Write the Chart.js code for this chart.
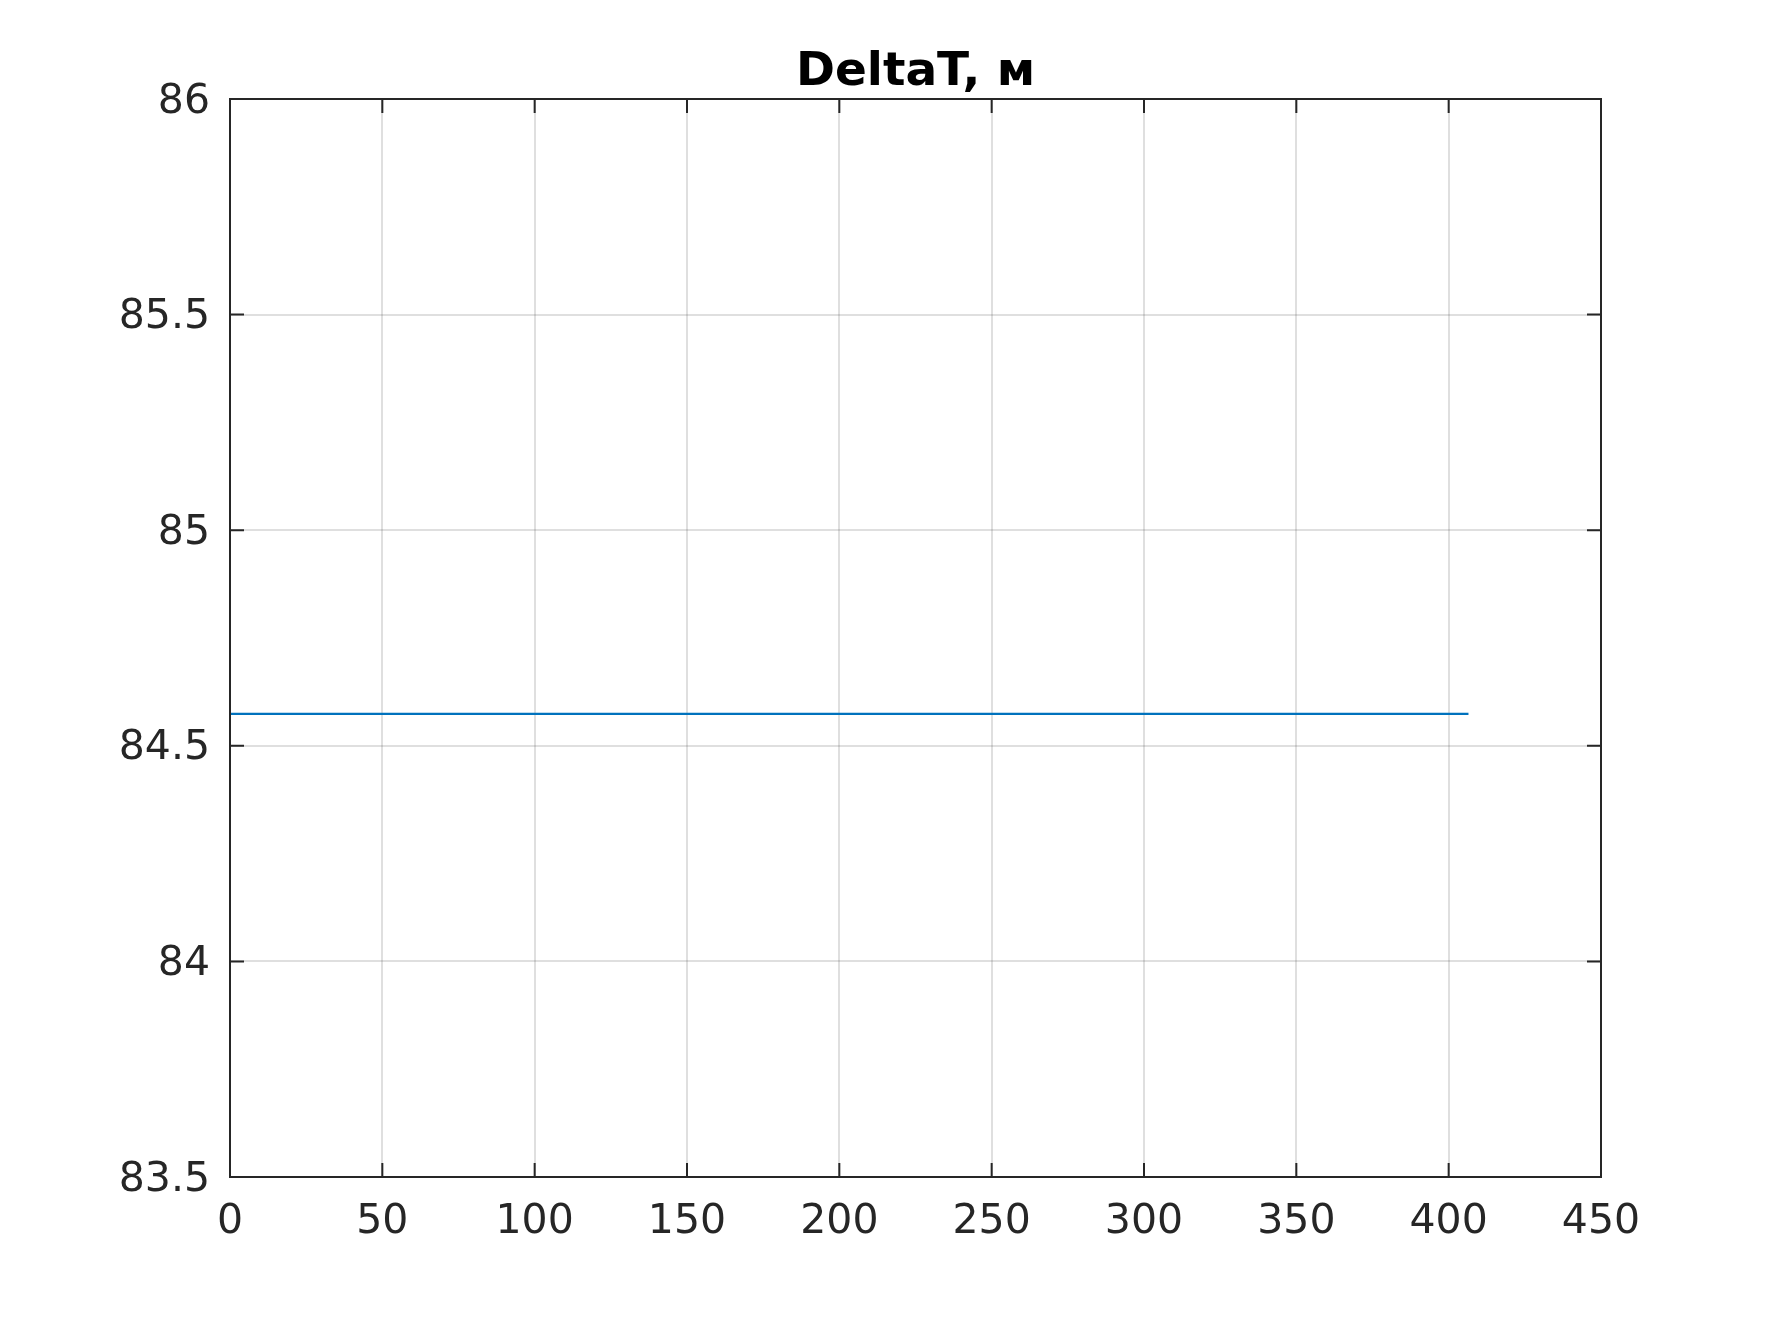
<!DOCTYPE html>
<html>
<head>
<meta charset="utf-8">
<script src="https://cdn.jsdelivr.net/npm/chart.js@4"></script>
<style>
  html, body { margin: 0; padding: 0; background: #ffffff; }
  #wrap { width: 1769px; height: 1322px; position: relative; }
</style>
</head>
<body>
<div id="wrap"><canvas id="c" width="1769" height="1322"></canvas></div>
<script>
// ---- data ----
const titleText = 'DeltaT, м';
const xValues = [0, 406.5];
const yValues = [84.574, 84.574];
const xTicks = [0, 50, 100, 150, 200, 250, 300, 350, 400, 450];
const yTicks = [83.5, 84, 84.5, 85, 85.5, 86];

const axisColor = '#262626';
const gridColor = 'rgba(38,38,38,0.15)';
const lineColor = '#0072BD';
const FONT = "'DejaVu Sans', sans-serif";

const boxPlugin = {
  id: 'matlabBox',
  afterDraw(chart) {
    const { ctx, chartArea: a, scales } = chart;
    ctx.save();
    ctx.strokeStyle = axisColor;
    ctx.lineWidth = 2;
    const tl = 14;
    ctx.beginPath();
    xTicks.forEach(v => {
      const px = scales.x.getPixelForValue(v);
      ctx.moveTo(px, a.bottom); ctx.lineTo(px, a.bottom - tl);
      ctx.moveTo(px, a.top); ctx.lineTo(px, a.top + tl);
    });
    yTicks.forEach(v => {
      const py = scales.y.getPixelForValue(v);
      ctx.moveTo(a.left, py); ctx.lineTo(a.left + tl, py);
      ctx.moveTo(a.right, py); ctx.lineTo(a.right - tl, py);
    });
    ctx.stroke();
    ctx.strokeRect(a.left, a.top, a.right - a.left, a.bottom - a.top);
    // title centred over the axes box, MATLAB style
    ctx.fillStyle = '#000000';
    ctx.font = "bold 47px 'DejaVu Sans', sans-serif";
    ctx.textAlign = 'center';
    ctx.textBaseline = 'alphabetic';
    ctx.fillText(titleText, (a.left + a.right) / 2, a.top - 14);
    ctx.restore();
  }
};

new Chart(document.getElementById('c'), {
  type: 'line',
  data: {
    datasets: [{
      data: xValues.map((x, i) => ({ x: x, y: yValues[i] })),
      borderColor: lineColor,
      borderWidth: 2.2,
      pointRadius: 0,
      fill: false,
      tension: 0
    }]
  },
  options: {
    responsive: false,
    animation: false,
    devicePixelRatio: 1,
    layout: { padding: { top: 99, left: 0, right: 168, bottom: 0 } },
    plugins: {
      legend: { display: false },
      tooltip: { enabled: false },
      title: { display: false }
    },
    scales: {
      x: {
        type: 'linear',
        min: 0, max: 450,
        afterBuildTicks: s => { s.ticks = xTicks.map(v => ({ value: v })); },
        afterFit: s => { s.height = 145; },
        ticks: {
          color: axisColor,
          font: { family: FONT, size: 41 },
          padding: 21,
          maxRotation: 0,
          callback: v => String(v)
        },
        grid: { color: gridColor, lineWidth: 2, drawTicks: false },
        border: { display: false }
      },
      y: {
        type: 'linear',
        min: 83.5, max: 86,
        afterBuildTicks: s => { s.ticks = yTicks.map(v => ({ value: v })); },
        afterFit: s => { s.width = 230; },
        ticks: {
          color: axisColor,
          font: { family: FONT, size: 41 },
          padding: 20,
          labelOffset: 3,
          callback: v => String(Number(v.toFixed(1)))
        },
        grid: { color: gridColor, lineWidth: 2, drawTicks: false },
        border: { display: false }
      }
    }
  },
  plugins: [boxPlugin]
});
</script>
</body>
</html>
